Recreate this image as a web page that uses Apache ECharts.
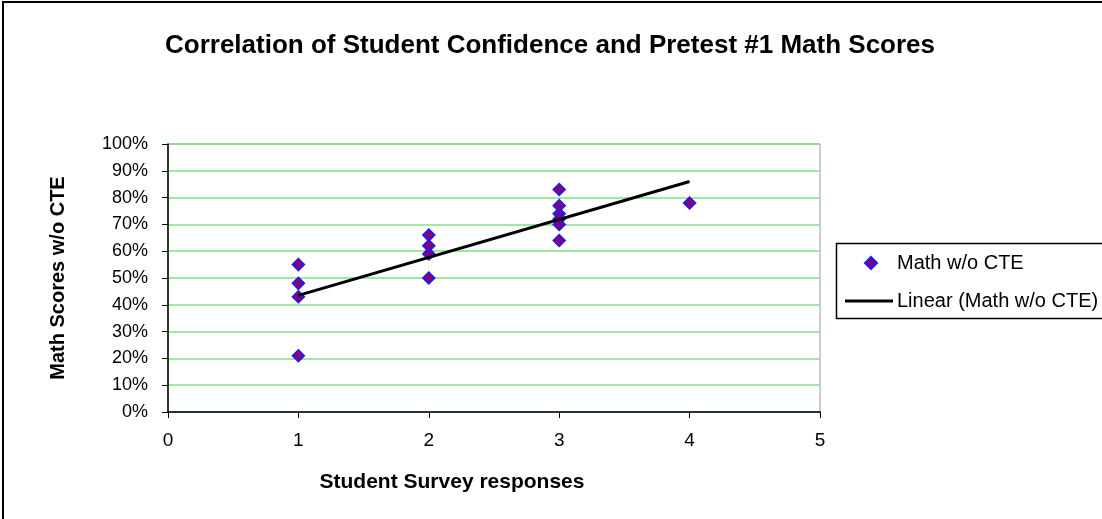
<!DOCTYPE html>
<html>
<head>
<meta charset="utf-8">
<script src="https://cdn.jsdelivr.net/npm/echarts@6/dist/echarts.min.js"></script>
<style>
  html, body { margin: 0; padding: 0; background: #fff; }
  #main { width: 1102px; height: 519px; }
</style>
</head>
<body>
<div id="main"></div>
<script>
/* survey answer (x) and pretest score (y) for each student */
var surveyX = [1, 1, 1, 1, 2, 2, 2, 2, 3, 3, 3, 3, 3, 3, 4];
var scoreY = [0.55, 0.48, 0.43, 0.21, 0.66, 0.62, 0.59, 0.50, 0.83, 0.77, 0.74, 0.72, 0.70, 0.64, 0.78];
var xTicks = [0, 1, 2, 3, 4, 5];
var yTicks = [0, 0.1, 0.2, 0.3, 0.4, 0.5, 0.6, 0.7, 0.8, 0.9, 1];

var FONT = "'Liberation Sans', Arial, sans-serif";

var points = surveyX.map(function (x, i) { return [x, scoreY[i]]; });

// linear trend line, least squares like excel does
function linearFit(xs, ys) {
  var n = xs.length, sx = 0, sy = 0, sxx = 0, sxy = 0;
  for (var i = 0; i < n; i++) {
    sx += xs[i]; sy += ys[i]; sxx += xs[i] * xs[i]; sxy += xs[i] * ys[i];
  }
  var slope = (n * sxy - sx * sy) / (n * sxx - sx * sx);
  var icpt = (sy - slope * sx) / n;
  var x0 = Math.min.apply(null, xs), x1 = Math.max.apply(null, xs);
  return [[x0, icpt + slope * x0], [x1, icpt + slope * x1]];
}
var trend = linearFit(surveyX, scoreY);

var myChart = echarts.init(document.getElementById('main'));
var option = {
  backgroundColor: '#fff',
  animation: false,
  title: {
    text: 'Correlation of Student Confidence and Pretest #1 Math Scores',
    left: 545,
    textAlign: 'center',
    top: 28,
    textStyle: { fontFamily: FONT, fontSize: 26, fontWeight: 'bold', color: '#000' }
  },
  graphic: [{
    // outer chart frame
    type: 'rect',
    shape: { x: 3, y: 2, width: 1200, height: 600 },
    style: { fill: 'none', stroke: '#000', lineWidth: 2 },
    silent: true
  }, {
    // legend box
    type: 'rect',
    shape: { x: 836.5, y: 243.5, width: 300, height: 75 },
    style: { fill: '#fff', stroke: '#000', lineWidth: 1.5 },
    silent: true,
    z: 0
  }],
  legend: [{
    left: 864,
    top: 253,
    padding: 0,
    itemWidth: 12,
    itemHeight: 12,
    textStyle: { fontFamily: FONT, fontSize: 20, color: '#000', padding: [0, 0, 0, 15] },
    data: [{ name: 'Math w/o CTE', icon: 'diamond' }]
  }, {
    left: 845,
    top: 291,
    padding: 0,
    itemWidth: 48,
    itemHeight: 3,
    textStyle: { fontFamily: FONT, fontSize: 20, color: '#000', padding: [0, 0, 0, -1] },
    data: [{ name: 'Linear (Math w/o CTE)', icon: 'rect', itemStyle: { color: '#000' } }]
  }],
  grid: {
    left: 168,
    right: 282,
    top: 144,
    bottom: 107,
    show: true,
    borderColor: '#999',
    borderWidth: 1,
    backgroundColor: '#fff'
  },
  xAxis: {
    type: 'value',
    min: xTicks[0],
    max: xTicks[xTicks.length - 1],
    interval: 1,
    name: 'Student Survey responses',
    nameLocation: 'middle',
    nameGap: 60,
    nameTextStyle: { fontFamily: FONT, fontSize: 21, fontWeight: 'bold', color: '#000', padding: [0, 84, 0, 0] },
    axisLine: { lineStyle: { color: '#000', width: 1.5 } },
    axisTick: { show: true, length: 6, inside: false, lineStyle: { color: '#000' } },
    axisLabel: { fontFamily: FONT, fontSize: 19, color: '#000', margin: 19 },
    splitLine: { show: false }
  },
  yAxis: {
    type: 'value',
    min: yTicks[0],
    max: yTicks[yTicks.length - 1],
    interval: 0.1,
    name: 'Math Scores w/o CTE',
    nameLocation: 'middle',
    nameGap: 100,
    nameTextStyle: { fontFamily: FONT, fontSize: 20, fontWeight: 'bold', color: '#000' },
    axisLine: { show: true, lineStyle: { color: '#000', width: 1.5 } },
    axisTick: { show: true, length: 6, inside: false, lineStyle: { color: '#000' } },
    axisLabel: {
      fontFamily: FONT, fontSize: 18, color: '#000', margin: 20,
      formatter: function (v) { return Math.round(v * 100) + '%'; }
    },
    splitLine: { show: true, lineStyle: { color: '#80e080', width: 1.5 } }
  },
  series: [
    {
      name: 'Math w/o CTE',
      type: 'scatter',
      symbol: 'diamond',
      symbolSize: 12,
      itemStyle: { color: '#800080', borderColor: '#1c1cf0', borderWidth: 1.5, opacity: 1 },
      data: points,
      z: 3
    },
    {
      name: 'Linear (Math w/o CTE)',
      type: 'line',
      symbol: 'none',
      lineStyle: { color: '#000', width: 3 },
      itemStyle: { color: '#000' },
      data: trend,
      z: 4
    }
  ]
};
myChart.setOption(option);
</script>
</body>
</html>
